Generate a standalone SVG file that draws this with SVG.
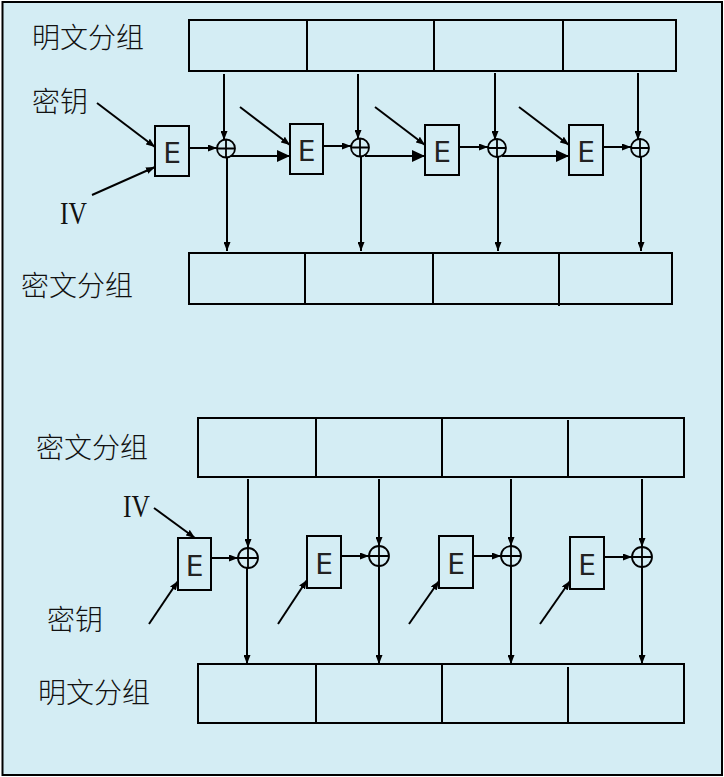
<svg xmlns="http://www.w3.org/2000/svg" width="724" height="777" viewBox="0 0 724 777">
<style>
.bg{fill:#D4EDF4;stroke:#000;stroke-width:2}
.box{fill:none;stroke:#000;stroke-width:2}
.ln{fill:none;stroke:#000;stroke-width:2}
.ar{fill:none;stroke:#000;stroke-width:2;marker-end:url(#a)}
.ab{fill:none;stroke:#000;stroke-width:2;marker-end:url(#b)}
.xor{fill:none;stroke:#000;stroke-width:1.8}
.cn{font-family:"Noto Sans CJK SC","Noto Sans",sans-serif;font-size:28px;font-weight:300;fill:#111}
.iv{font-family:"Liberation Serif",serif;font-size:31px;fill:#111}
.e{font-family:"DejaVu Sans",sans-serif;font-size:28px;fill:#222;text-anchor:middle}
</style>
<defs>
<marker id="a" markerUnits="userSpaceOnUse" markerWidth="9" markerHeight="7" refX="9" refY="3.5" orient="auto"><path d="M0,0 L9,3.5 L0,7 z" fill="#000"/></marker>
<marker id="b" markerUnits="userSpaceOnUse" markerWidth="13" markerHeight="12" refX="13" refY="6" orient="auto"><path d="M0,0 L13,6 L0,12 z" fill="#000"/></marker>
</defs>
<rect class="bg" x="2.5" y="2" width="719.5" height="773"/>

<!-- Top: encryption -->
<g id="pt-top">
<rect class="box" x="189" y="20" width="487" height="51"/>
<line class="ln" x1="307" y1="20" x2="307" y2="71"/>
<line class="ln" x1="434" y1="20" x2="434" y2="71"/>
<line class="ln" x1="563" y1="20" x2="563" y2="71"/>
</g>
<g id="ct-top">
<rect class="box" x="189" y="253" width="483" height="51"/>
<line class="ln" x1="305" y1="253" x2="305" y2="304"/>
<line class="ln" x1="433" y1="253" x2="433" y2="304"/>
<line class="ln" x1="559" y1="253" x2="559" y2="306"/>
</g>
<g id="labels-top">
<text class="cn" x="32" y="48">明文分组</text>
<text class="cn" x="32" y="112">密钥</text>
<text class="iv" x="60" y="224" textLength="27" lengthAdjust="spacingAndGlyphs">IV</text>
<text class="cn" x="21" y="296">密文分组</text>
</g>
<g id="e1-top"><rect class="box" x="155" y="126" width="34" height="50"/><text class="e" x="172" y="163">E</text></g>
<g id="e2-top"><rect class="box" x="290" y="124" width="33" height="50"/><text class="e" x="306.5" y="161">E</text></g>
<g id="e3-top"><rect class="box" x="425" y="125" width="34" height="50"/><text class="e" x="442" y="162">E</text></g>
<g id="e4-top"><rect class="box" x="569" y="125" width="34" height="50"/><text class="e" x="586" y="162">E</text></g>
<g id="x1-top"><circle class="xor" cx="226" cy="148.5" r="9"/><path class="xor" d="M217,148.5 H235 M226,139.5 V157.5"/></g>
<g id="x2-top"><circle class="xor" cx="360" cy="147.5" r="9"/><path class="xor" d="M351,147.5 H369 M360,138.5 V156.5"/></g>
<g id="x3-top"><circle class="xor" cx="497" cy="148" r="9"/><path class="xor" d="M488,148 H506 M497,139 V157"/></g>
<g id="x4-top"><circle class="xor" cx="640" cy="148" r="9"/><path class="xor" d="M631,148 H649 M640,139 V157"/></g>

<g id="connectors-top">
<line class="ar" x1="97" y1="103" x2="155" y2="147"/>
<line class="ar" x1="92" y1="195" x2="155" y2="167"/>
<line class="ar" x1="189" y1="148" x2="217" y2="148"/>
<line class="ab" x1="231" y1="156" x2="290" y2="156"/>
<line class="ar" x1="240" y1="107" x2="290" y2="145"/>
<line class="ar" x1="323" y1="146" x2="351" y2="146"/>
<line class="ab" x1="365" y1="156" x2="425" y2="156"/>
<line class="ar" x1="375" y1="107" x2="425" y2="145"/>
<line class="ar" x1="459" y1="147" x2="488" y2="147"/>
<line class="ab" x1="502" y1="156" x2="569" y2="156"/>
<line class="ar" x1="519" y1="107" x2="569" y2="145"/>
<line class="ar" x1="603" y1="147" x2="631" y2="147"/>
<line class="ar" x1="224" y1="74" x2="224" y2="140"/>
<line class="ar" x1="227" y1="157" x2="227" y2="251"/>
<line class="ar" x1="358" y1="74" x2="358" y2="139"/>
<line class="ar" x1="361" y1="156" x2="361" y2="251"/>
<line class="ar" x1="495" y1="73" x2="495" y2="140"/>
<line class="ar" x1="498" y1="157" x2="498" y2="251"/>
<line class="ar" x1="638" y1="73" x2="638" y2="140"/>
<line class="ar" x1="641" y1="157" x2="641" y2="251"/>
</g>

<!-- Bottom: decryption -->
<g id="ct-bot">
<rect class="box" x="198" y="418" width="486" height="59"/>
<line class="ln" x1="316" y1="418" x2="316" y2="477"/>
<line class="ln" x1="442" y1="418" x2="442" y2="477"/>
<line class="ln" x1="568" y1="420" x2="568" y2="478"/>
</g>
<g id="pt-bot">
<rect class="box" x="198" y="664" width="486" height="59"/>
<line class="ln" x1="316" y1="664" x2="316" y2="723"/>
<line class="ln" x1="442" y1="664" x2="442" y2="723"/>
<line class="ln" x1="568" y1="667" x2="568" y2="724"/>
</g>
<g id="labels-bot">
<text class="cn" x="36" y="458">密文分组</text>
<text class="iv" x="123" y="517" textLength="27" lengthAdjust="spacingAndGlyphs">IV</text>
<text class="cn" x="47" y="630">密钥</text>
<text class="cn" x="38" y="703">明文分组</text>
</g>
<g id="e1-bot"><rect class="box" x="178" y="538" width="33" height="52"/><text class="e" x="194.5" y="576">E</text></g>
<g id="e2-bot"><rect class="box" x="307" y="536" width="34" height="52"/><text class="e" x="324" y="574">E</text></g>
<g id="e3-bot"><rect class="box" x="439" y="536" width="34" height="52"/><text class="e" x="456" y="574">E</text></g>
<g id="e4-bot"><rect class="box" x="570" y="537" width="34" height="52"/><text class="e" x="587" y="575">E</text></g>
<g id="x1-bot"><circle class="xor" cx="248" cy="558" r="10"/><path class="xor" d="M238,558 H258 M248,548 V568"/></g>
<g id="x2-bot"><circle class="xor" cx="379" cy="556" r="10"/><path class="xor" d="M369,556 H389 M379,546 V566"/></g>
<g id="x3-bot"><circle class="xor" cx="511" cy="556" r="10"/><path class="xor" d="M501,556 H521 M511,546 V566"/></g>
<g id="x4-bot"><circle class="xor" cx="642" cy="557" r="10"/><path class="xor" d="M632,557 H652 M642,547 V567"/></g>

<g id="connectors-bot">
<line class="ar" x1="154" y1="508" x2="195" y2="538"/>
<line class="ar" x1="149" y1="624" x2="178" y2="581"/>
<line class="ar" x1="211" y1="558" x2="238" y2="558"/>
<line class="ar" x1="248" y1="479" x2="248" y2="548"/>
<line class="ar" x1="247" y1="568" x2="247" y2="664"/>
<line class="ar" x1="278" y1="624" x2="307" y2="580"/>
<line class="ar" x1="341" y1="556" x2="369" y2="556"/>
<line class="ar" x1="379" y1="479" x2="379" y2="546"/>
<line class="ar" x1="379" y1="566" x2="379" y2="664"/>
<line class="ar" x1="409" y1="624" x2="439" y2="581"/>
<line class="ar" x1="473" y1="556" x2="501" y2="556"/>
<line class="ar" x1="511" y1="479" x2="511" y2="546"/>
<line class="ar" x1="511" y1="566" x2="511" y2="664"/>
<line class="ar" x1="540" y1="624" x2="570" y2="581"/>
<line class="ar" x1="604" y1="557" x2="632" y2="557"/>
<line class="ar" x1="642" y1="479" x2="642" y2="547"/>
<line class="ar" x1="642" y1="567" x2="642" y2="664"/>
</g>
</svg>
